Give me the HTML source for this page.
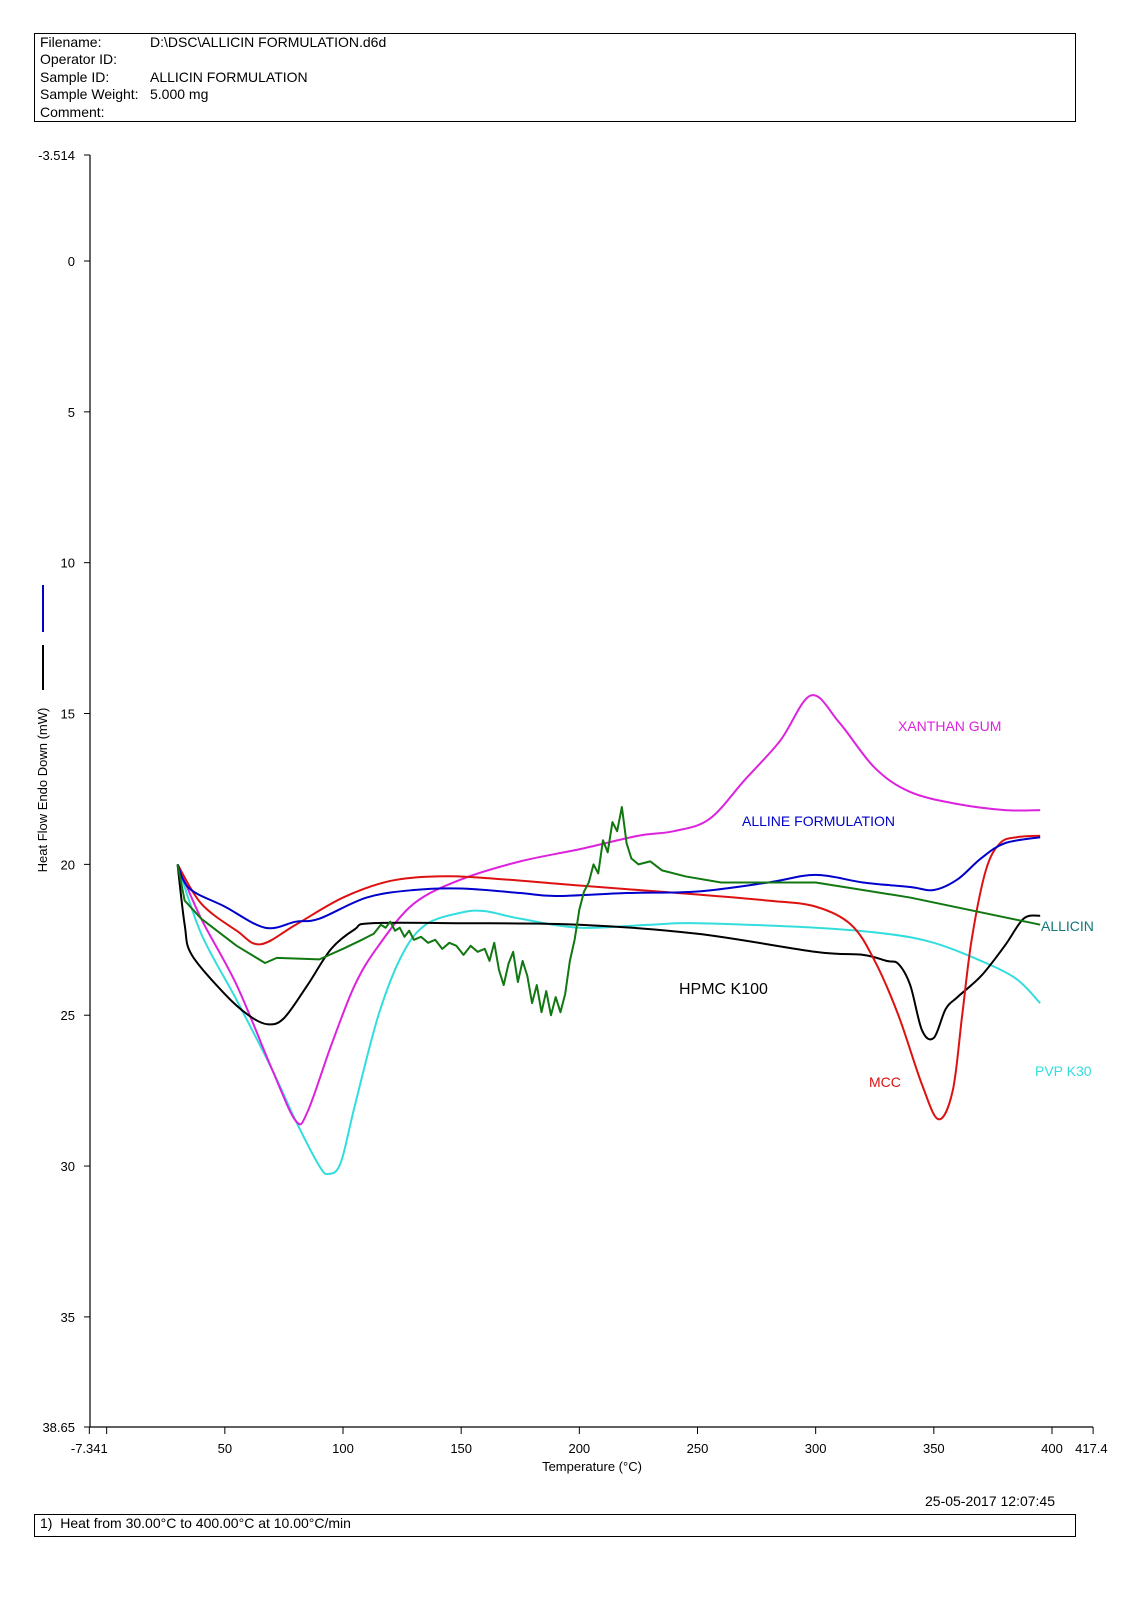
<!DOCTYPE html>
<html><head><meta charset="utf-8">
<style>
body{margin:0;background:#fff;font-family:"Liberation Sans",Arial,sans-serif;}
#wrap{position:relative;width:1144px;height:1618px;overflow:hidden;}
.t{position:absolute;font-size:14px;color:#000;white-space:nowrap;}
</style></head>
<body>
<div id="wrap">
<div style="position:absolute;left:34px;top:33px;width:1040px;height:87px;border:1px solid #000;"></div>
<div class="t" style="left:40px;top:34px;line-height:17.4px;">Filename:<br>Operator ID:<br>Sample ID:<br>Sample Weight:<br>Comment:</div>
<div class="t" style="left:150px;top:34px;line-height:17.4px;">D:\DSC\ALLICIN FORMULATION.d6d<br>&nbsp;<br>ALLICIN FORMULATION<br>5.000 mg<br>&nbsp;</div>
<svg id="chart" width="1144" height="1618" style="position:absolute;left:0;top:0"></svg>
<div class="t" style="left:925px;top:1493px;">25-05-2017 12:07:45</div>
<div style="position:absolute;left:34px;top:1514px;width:1040px;height:21px;border:1px solid #000;"></div>
<div class="t" style="left:40px;top:1515px;">1)&nbsp; Heat from 30.00°C to 400.00°C at 10.00°C/min</div>
</div>
<script>
const xTicks=[50,100,150,200,250,300,350,400];
const yTicks=[0,5,10,15,20,25,30,35];
const blueT=[30,35,50,67,80,90,110,130,150,175,190,220,250,280,300,320,340,350,360,370,380,395];
const blueV=[20,20.8,21.4,22.1,21.9,21.8,21.1,20.85,20.8,20.95,21.05,20.95,20.9,20.6,20.35,20.6,20.75,20.85,20.5,19.8,19.3,19.1];
const redT=[30,40,55,65,80,100,120,140,160,200,250,280,300,315,325,335,345,352,358,362,366,372,378,385,395];
const redV=[20,21.3,22.2,22.65,22.0,21.1,20.55,20.4,20.45,20.7,21.0,21.2,21.4,22.0,23.2,25.0,27.3,28.45,27.5,25,22.5,20.2,19.3,19.1,19.05];
const greenT=[30,33,40,55,67,72,90,100,108,113,116,118,120,122,124,126,128,130,133,136,139,142,145,148,151,154,157,160,162,164,166,168,170,172,174,176,178,180,182,184,186,188,190,192,194,196,198,200,202,204,206,208,210,212,214,216,218,220,222,225,230,235,245,260,300,340,395];
const greenV=[20,21.2,21.8,22.7,23.27,23.1,23.15,22.8,22.5,22.3,22.0,22.1,21.9,22.2,22.1,22.4,22.2,22.5,22.4,22.6,22.5,22.8,22.6,22.7,23.0,22.7,22.9,22.8,23.2,22.6,23.5,24.0,23.3,22.9,23.9,23.2,23.7,24.6,24.0,24.9,24.2,25.0,24.4,24.9,24.3,23.2,22.5,21.5,20.9,20.6,20.0,20.3,19.2,19.6,18.6,18.9,18.1,19.3,19.8,20.0,19.9,20.2,20.4,20.6,20.6,21.1,22.0];
const blackT=[30,33,36,50,60,68,75,85,95,105,112,150,200,250,300,320,330,335,340,345,350,355,360,370,380,388,395];
const blackV=[20,22.0,23.0,24.3,25.0,25.3,25.1,24.0,22.8,22.15,21.95,21.95,22.0,22.3,22.9,23.0,23.2,23.3,24.0,25.5,25.75,24.8,24.4,23.7,22.7,21.8,21.7];
const magT=[30,40,55,70,80,85,95,105,115,130,150,175,200,225,240,255,270,285,298,310,325,340,360,380,395];
const magV=[20,21.8,24.0,26.8,28.5,28.2,26.0,24.0,22.7,21.3,20.5,19.9,19.5,19.05,18.9,18.5,17.2,15.9,14.4,15.3,16.8,17.6,18.0,18.2,18.2];
const cyanT=[30,40,55,70,80,90,94,99,105,115,125,135,150,160,175,200,230,250,300,330,350,370,385,395];
const cyanV=[20,22.3,24.5,26.8,28.5,30.0,30.26,29.9,28.0,25.0,23.0,22.0,21.6,21.55,21.8,22.1,22.0,21.95,22.1,22.3,22.6,23.2,23.8,24.6];

const X0=343,XS=2.3633,Y0=155,YS=1272/42.164,YMIN=-3.514;
function sx(t){return X0+(t-100)*XS;}
function sy(v){return Y0+(v-YMIN)*YS;}
const svg=document.getElementById('chart');
const NS='http://www.w3.org/2000/svg';
function mk(tag,attrs){const e=document.createElementNS(NS,tag);for(const k in attrs)e.setAttribute(k,attrs[k]);svg.appendChild(e);return e;}
function txt(x,y,s,anchor,fill,size){const e=mk('text',{x:x,y:y,'text-anchor':anchor,fill:fill,'font-size':size,'font-family':'Liberation Sans, Arial, sans-serif'});e.textContent=s;return e;}

let ax=mk('path',{d:`M90 ${sy(YMIN)} L90 ${sy(38.65)} L1093 ${sy(38.65)}`,stroke:'#000',fill:'none','stroke-width':1.2});


let t1=mk('line',{x1:84,x2:90,y1:sy(YMIN),y2:sy(YMIN),stroke:'#000'});


let l1=txt(75,sy(YMIN)+5,'-3.514','end','#000',13);


let l2=txt(75,sy(38.65)+5,'38.65','end','#000',13);


let t2=mk('line',{x1:84,x2:90,y1:sy(38.65),y2:sy(38.65),stroke:'#000'});


yTicks.forEach(v=>{
  const t=mk('line',{x1:84,x2:90,y1:sy(v),y2:sy(v),stroke:'#000'});
  
  
  const l=txt(75,sy(v)+5,String(v),'end','#000',13);
  
  
});
[-7.341,0].concat(xTicks).concat([417.4]).forEach(v=>{
  const t=mk('line',{x1:sx(v),x2:sx(v),y1:sy(38.65),y2:sy(38.65)+7,stroke:'#000'});
  
  
});
[-7.341].concat(xTicks).concat([417.4]).forEach(v=>{
  const l=txt(v===417.4?sx(v)-18:sx(v),1453,String(v),v===417.4?'start':'middle','#000',13);
  
  
});
let xt=txt(592,1471,'Temperature (°C)','middle','#000',13);


let yt=txt(0,0,'Heat Flow Endo Down (mW)','middle','#000',13);
yt.setAttribute('transform','translate(47,790) rotate(-90)');


let lb=mk('line',{x1:43,x2:43,y1:585,y2:632,stroke:'#0000cc','stroke-width':2});


let lk=mk('line',{x1:43,x2:43,y1:645,y2:690,stroke:'#000','stroke-width':2});



function smooth(T,V){
  const p=T.map((t,i)=>[sx(t),sy(V[i])]);
  let d=`M${p[0][0]} ${p[0][1]}`;
  for(let i=0;i<p.length-1;i++){
    const a=p[Math.max(0,i-1)],b=p[i],c=p[i+1],e=p[Math.min(p.length-1,i+2)];
    d+=` C${b[0]+(c[0]-a[0])/6} ${b[1]+(c[1]-a[1])/6} ${c[0]-(e[0]-b[0])/6} ${c[1]-(e[1]-b[1])/6} ${c[0]} ${c[1]}`;
  }
  return d;
}
function poly(T,V){return 'M'+T.map((t,i)=>sx(t)+' '+sy(V[i])).join(' L');}
const series=[
 [cyanT,cyanV,'#33dddd','series-pvp-k30',true],
 [magT,magV,'#dd22dd','series-xanthan-gum',true],
 [blackT,blackV,'#000000','series-hpmc-k100',true],
 [redT,redV,'#dd1111','series-mcc',true],
 [blueT,blueV,'#0000cc','series-alline-formulation',true],
 [greenT,greenV,'#117711','series-allicin',false]
];
series.forEach(s=>{
  const p=mk('path',{d:s[4]?smooth(s[0],s[1]):poly(s[0],s[1]),stroke:s[2],fill:'none','stroke-width':2,'stroke-linejoin':'round'});
  
  
});
const labels=[[898,731,'XANTHAN GUM','#dd22dd',14,'label-xanthan-gum'],[742,826,'ALLINE FORMULATION','#0000cc',14,'label-alline-formulation'],[1041,931,'ALLICIN','#117777',14,'label-allicin'],[679,994,'HPMC K100','#000',16,'label-hpmc-k100'],[869,1087,'MCC','#dd1111',14,'label-mcc'],[1035,1076,'PVP K30','#33dddd',14,'label-pvp-k30']];
labels.forEach(l=>{
  const e=txt(l[0],l[1],l[2],'start',l[3],l[4]);
  
  
});
</script>
</body></html>
